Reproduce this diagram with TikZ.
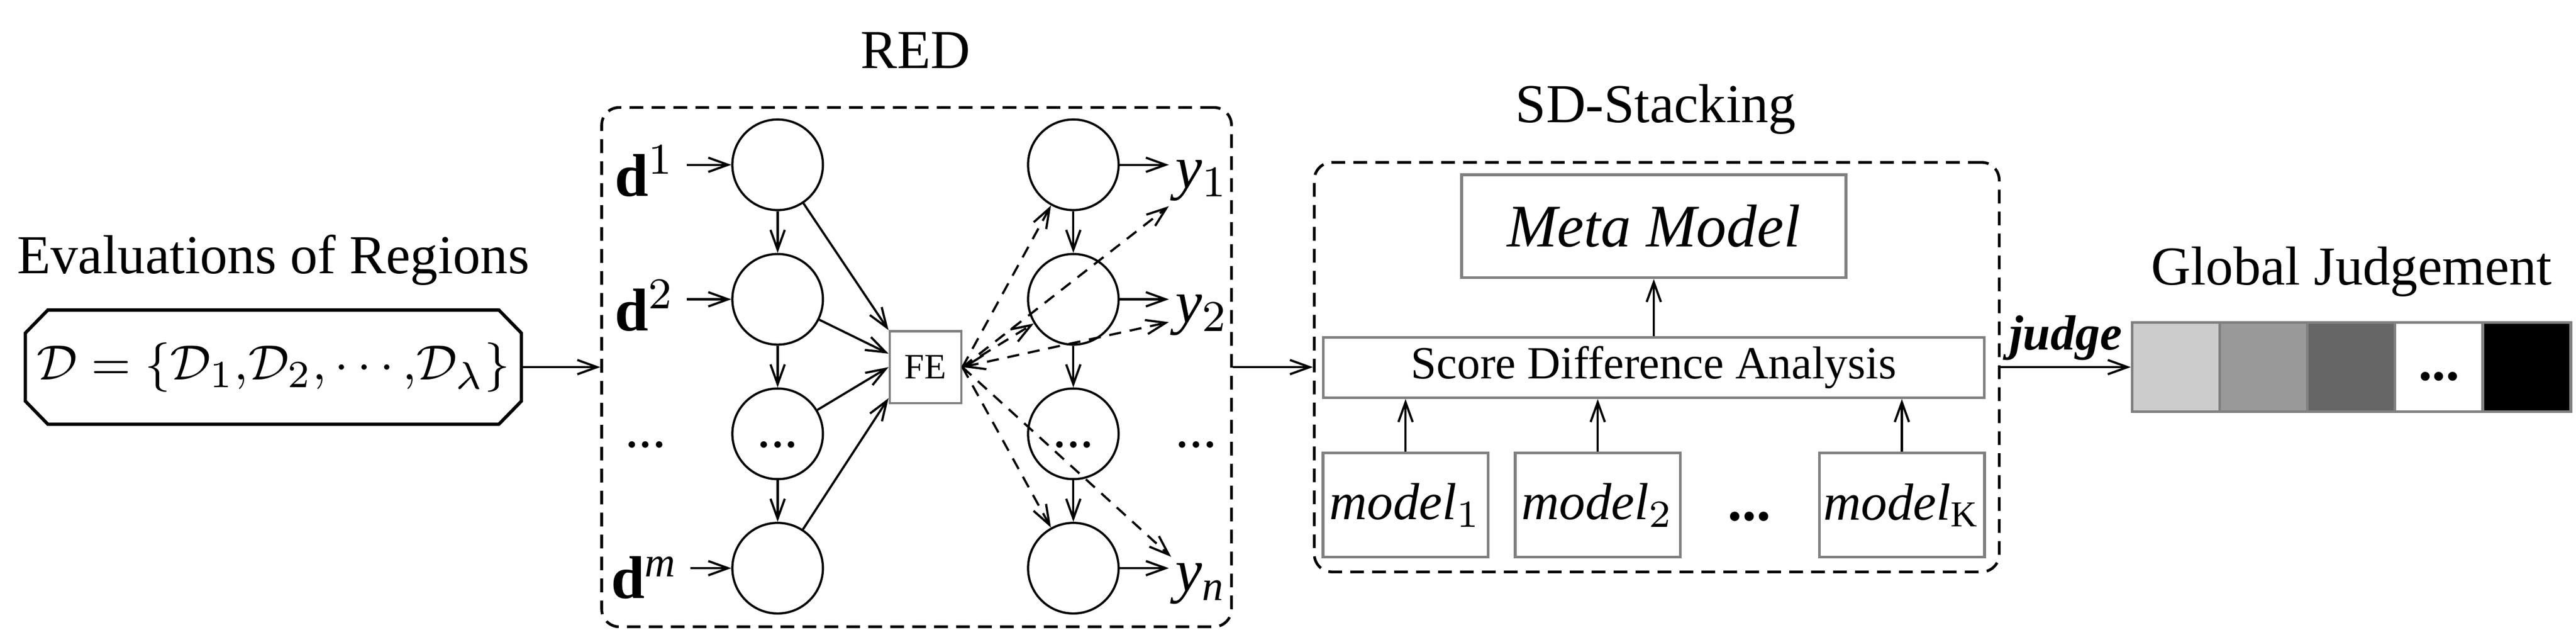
\documentclass[tikz,border=0pt]{standalone}
\usepackage{fontspec}
\setmainfont{Liberation Serif}
\usetikzlibrary{arrows.meta}

\begin{document}
\begin{tikzpicture}[
    >={Straight Barb[length=3.6pt,width=2.6pt]},
    every node/.style={font=\rmfamily\fontsize{10}{12}\selectfont},
    neuron/.style={circle, draw, minimum size=0.58cm, inner sep=0pt},
    greybox/.style={draw=gray, line width=0.5pt, inner sep=0pt},
    group/.style={draw, line width=0.5pt, dash pattern=on 2.5pt off 1.5pt, rounded corners=3.2pt, inner sep=0pt},
    flow/.style={->, dash pattern=on 2.2pt off 1.6pt},
    cell/.style={draw=gray, line width=0.5pt, minimum width=0.562cm, minimum height=0.572cm, inner sep=0pt},
    lbl/.style={inner sep=2pt, font=\rmfamily\fontsize{11}{13}\selectfont}
]
    \useasboundingbox (0, 0) rectangle (16.5, -4.032);

    \node[anchor=base] (evaltitle) at (1.751, -1.751) {Evaluations of Regions};
    \node[minimum width=90pt, minimum height=20.4pt, inner sep=0pt, font=\rmfamily\fontsize{9.5}{11}\selectfont] (regions) at (1.751, -2.35)
          {$\mathcal{D}=\{\mathcal{D}_1{,}\mathcal{D}_2{,}\cdots{,}\mathcal{D}_{\lambda}\}$};
    \draw[semithick] ([xshift=4.1pt]regions.north west) -- ([xshift=-4.1pt]regions.north east)
        -- ([yshift=-4.2pt]regions.north east) -- ([yshift=4.2pt]regions.south east)
        -- ([xshift=-4.1pt]regions.south east) -- ([xshift=4.1pt]regions.south west)
        -- ([yshift=4.2pt]regions.south west) -- ([yshift=-4.2pt]regions.north west) -- cycle;

    \node[anchor=base] (redtitle) at (5.864, -0.437) {RED};
    \node[group, minimum width=4.034cm, minimum height=3.324cm] (red) at (5.871, -2.35) {};

    \node[neuron] (enc1) at (4.981, -1.055) {};
    \node[neuron] (enc2) at (4.981, -1.916) {};
    \node[neuron] (enc3) at (4.981, -2.777) {\strut...};
    \node[neuron] (enc4) at (4.981, -3.637) {};

    \node[neuron] (dec1) at (6.875, -1.055) {};
    \node[neuron] (dec2) at (6.875, -1.916) {};
    \node[neuron] (dec3) at (6.875, -2.777) {\strut...};
    \node[neuron] (dec4) at (6.875, -3.637) {};

    \node[greybox, line width=0.4pt, minimum size=0.459cm, font=\rmfamily\fontsize{6.5}{8}\selectfont] (fe) at (5.928, -2.35) {FE};

    \node[lbl, anchor=base] (d1) at (4.13, -1.255) {$\mathbf{d}^1$};
    \node[lbl, anchor=base] (d2) at (4.13, -2.116) {$\mathbf{d}^2$};
    \node (ddots) at (4.135, -2.777) {\strut...};
    \node[lbl, anchor=base] (dm) at (4.13, -3.83) {$\mathbf{d}^{\mathit{m}}$};

    \node[lbl, anchor=west, inner sep=1pt] (y1) at (7.487, -1.155) {$\mathit{y}_1$};
    \node[lbl, anchor=west, inner sep=1pt] (y2) at (7.487, -2.016) {$\mathit{y}_2$};
    \node (ydots) at (7.662, -2.777) {\strut...};
    \node[lbl, anchor=west, inner sep=1pt] (yn) at (7.487, -3.737) {$\mathit{y}_{\mathit{n}}$};

    \draw[->] (d1.east |- enc1) -- (enc1);
    \draw[->] (d2.east |- enc2) -- (enc2);
    \draw[->] (dm.east |- enc4) -- (enc4);

    \draw[->] (enc1) -- (enc2);
    \draw[->] (enc2) -- (enc3);
    \draw[->] (enc3) -- (enc4);
    \draw[->] (dec1) -- (dec2);
    \draw[->] (dec2) -- (dec3);
    \draw[->] (dec3) -- (dec4);

    \draw[->] (enc1) -- (fe.north west);
    \draw[->] (enc2) -- (fe.160);
    \draw[->] (enc3) -- (fe.west);
    \draw[->] (enc4) -- (fe.220);

    \draw[flow] (fe.east) -- (dec1);
    \draw[flow] (fe.east) -- (y1);
    \draw[flow] (fe.east) -- (dec2);
    \draw[flow, <->] (fe.east) -- (y2);
    \draw[flow] (fe.east) -- (dec4);
    \draw[flow] (fe.east) -- (yn);

    \draw[->] (dec1) -- (dec1 -| y1.west);
    \draw[->] (dec2) -- (dec2 -| y2.west);
    \draw[->] (dec4) -- (dec4 -| yn.west);

    \node[anchor=base] (sdtitle) at (10.606, -0.784) {SD-Stacking};
    \node[group, minimum width=4.387cm, minimum height=2.621cm] (sd) at (10.612, -2.35) {};
    \node[greybox, minimum width=2.461cm, minimum height=0.658cm, font=\rmfamily\fontsize{11}{13}\selectfont\itshape] (meta) at (10.593, -1.448) {Meta Model};
    \node[greybox, minimum width=4.232cm, minimum height=0.385cm, font=\rmfamily\fontsize{8.4}{10}\selectfont] (score) at (10.593, -2.353) {Score Difference Analysis};
    \node[greybox, minimum width=1.058cm, minimum height=0.666cm, font=\rmfamily\fontsize{9.5}{11}\selectfont] (model1) at (9.003, -3.233) {$\mathit{model}_1$};
    \node[greybox, minimum width=1.058cm, minimum height=0.666cm, font=\rmfamily\fontsize{9.5}{11}\selectfont] (model2) at (10.234, -3.233) {$\mathit{model}_2$};
    \node[anchor=base, font=\rmfamily\fontsize{10.5}{12}\selectfont\bfseries] (mdots) at (11.205, -3.33) {...};
    \node[greybox, minimum width=1.058cm, minimum height=0.666cm, font=\rmfamily\fontsize{9.5}{11}\selectfont] (modelk) at (12.182, -3.233) {$\mathit{model}_{\mathrm{K}}$};

    \draw[->] (score) -- (meta);
    \draw[->] (model1) -- (model1 |- score.south);
    \draw[->] (model2) -- (model2 |- score.south);
    \draw[->] (modelk) -- (modelk |- score.south);

    \node[anchor=base] (gjtitle) at (15.062, -1.822) {Global Judgement};
    \node[cell, fill=black!20] (jg1) at (13.938, -2.35) {};
    \node[cell, fill=black!40] (jg2) at (14.499, -2.35) {};
    \node[cell, fill=black!60] (jg3) at (15.06, -2.35) {};
    \node[cell, fill=white] (jg4) at (15.622, -2.35) {\strut\textbf{...}};
    \node[cell, fill=black] (jg5) at (16.186, -2.35) {};

    \draw[->] (regions) -- (red);
    \draw[->] (red) -- (sd);
    \draw[->] (sd) -- node[above, inner sep=1pt, font=\rmfamily\fontsize{9}{11}\selectfont\bfseries\itshape] {judge} (jg1);

\end{tikzpicture}
\end{document}
